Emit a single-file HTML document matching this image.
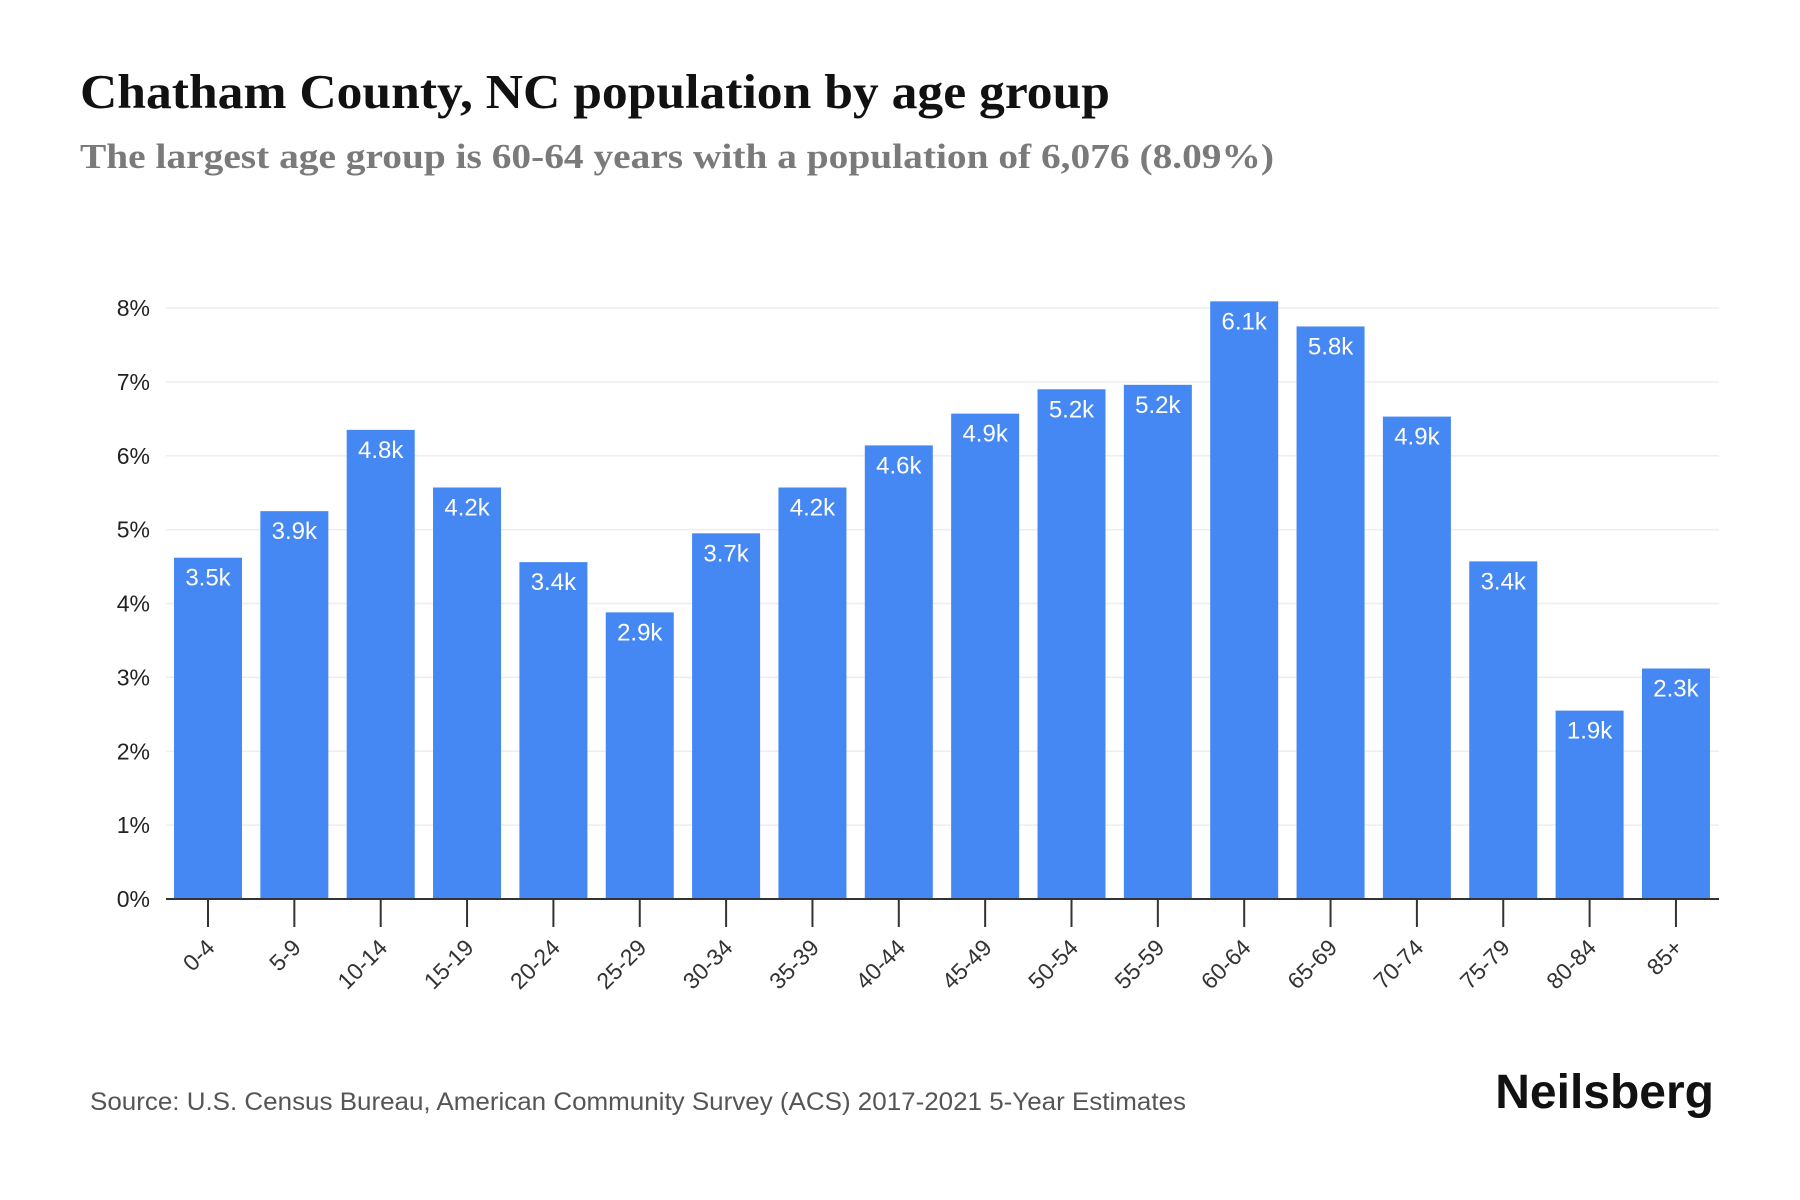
<!DOCTYPE html>
<html><head><meta charset="utf-8"><style>
body{margin:0;background:#fff;}
svg{display:block;}
</style></head><body>
<svg id="chart" width="1800" height="1200" viewBox="0 0 1800 1200">
<text x="80" y="108" textLength="1030" lengthAdjust="spacingAndGlyphs" font-family="Liberation Serif, serif" font-weight="bold" font-size="49" fill="#111">Chatham County, NC population by age group</text>
<text x="80" y="168" textLength="1194" lengthAdjust="spacingAndGlyphs" font-family="Liberation Serif, serif" font-weight="bold" font-size="35" fill="#7a7a7a">The largest age group is 60-64 years with a population of 6,076 (8.09%)</text>
<g id="grid"></g><g id="bars"></g><g id="axes"></g>
<text x="90" y="1110" textLength="1096" lengthAdjust="spacingAndGlyphs" font-family="Liberation Sans, sans-serif" font-size="25" fill="#555">Source: U.S. Census Bureau, American Community Survey (ACS) 2017-2021 5-Year Estimates</text>
<text x="1714" y="1108" text-anchor="end" font-family="Liberation Sans, sans-serif" font-weight="bold" font-size="48" fill="#111">Neilsberg</text>
</svg>
<script>
const categories=["0-4","5-9","10-14","15-19","20-24","25-29","30-34","35-39","40-44","45-49","50-54","55-59","60-64","65-69","70-74","75-79","80-84","85+"];
const percentValues=[4.62,5.25,6.35,5.57,4.56,3.88,4.95,5.57,6.14,6.57,6.90,6.96,8.09,7.75,6.53,4.57,2.55,3.12];
const valueLabels=["3.5k","3.9k","4.8k","4.2k","3.4k","2.9k","3.7k","4.2k","4.6k","4.9k","5.2k","5.2k","6.1k","5.8k","4.9k","3.4k","1.9k","2.3k"];
const yTicks=[0,1,2,3,4,5,6,7,8];
const NS="http://www.w3.org/2000/svg";
const x0=166,x1=1719,yBase=899,yTop=308,yMax=8;
const firstC=208,step=86.35,bw=68;
function y(v){return yBase-(yBase-yTop)*v/yMax;}
function xc(i){return firstC+i*step;}
function mk(tag,attrs,parent){const e=document.createElementNS(NS,tag);for(const k in attrs)e.setAttribute(k,attrs[k]);parent.appendChild(e);return e;}
const grid=document.getElementById('grid'),bars=document.getElementById('bars'),axes=document.getElementById('axes');
yTicks.forEach(t=>{
  if(t>0){const l=mk('line',{x1:x0,x2:x1,y1:y(t),y2:y(t),stroke:'#eeeeee','stroke-width':1.5},grid);
  
  }
  const tx=mk('text',{x:150,y:y(t)+8,'text-anchor':'end','font-family':'Liberation Sans, sans-serif','font-size':23,fill:'#222'},axes);
  tx.textContent=t+'%';
  
  
});
categories.forEach((c,i)=>{
  const v=percentValues[i];
  const r=mk('rect',{x:xc(i)-bw/2,y:y(v),width:bw,height:yBase-y(v),fill:'#4587f3'},bars);
  
  
  const lb=mk('text',{x:xc(i),y:y(v)+28,'text-anchor':'middle','font-family':'Liberation Sans, sans-serif','font-size':24,fill:'#fff'},bars);
  lb.textContent=valueLabels[i];
  
  
  const tk=mk('line',{x1:xc(i),x2:xc(i),y1:yBase,y2:yBase+28,stroke:'#333','stroke-width':2},axes);
  
  
  const tl=mk('text',{x:xc(i)+8,y:yBase+50,'text-anchor':'end','font-family':'Liberation Sans, sans-serif','font-size':23,fill:'#333',transform:'rotate(-45 '+(xc(i)+8)+' '+(yBase+50)+')'},axes);
  tl.textContent=c;
  
  
});
const ax=mk('line',{x1:x0,x2:x1,y1:yBase,y2:yBase,stroke:'#333','stroke-width':2},axes);


</script>
</body></html>
